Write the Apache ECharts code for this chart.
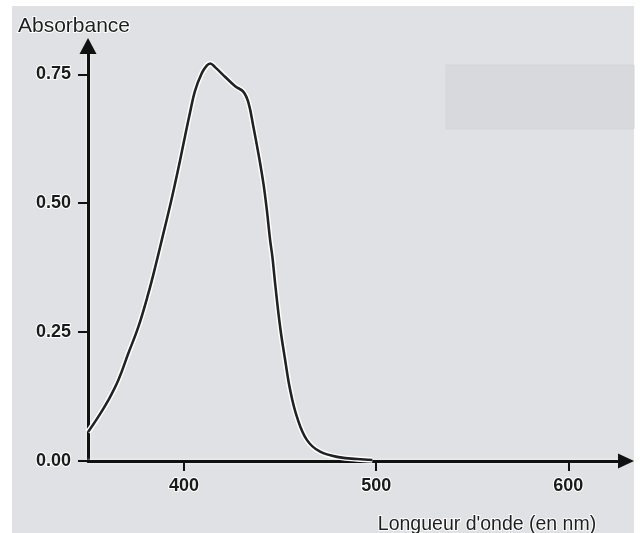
<!DOCTYPE html>
<html>
<head>
<meta charset="utf-8">
<script src="https://cdn.jsdelivr.net/npm/echarts@6/dist/echarts.min.js"></script>
<style>
html,body{margin:0;padding:0;background:#fff;}
#chart{width:641px;height:533px;}
</style>
</head>
<body>
<div id="chart"></div>
<script>
// Wavelength (nm) and absorbance
var wavelength = [350.0, 355.4, 360.6, 365.8, 371.0, 376.2, 381.4, 385.5, 389.2, 392.7, 395.3, 397.9, 400.5, 403.1, 405.7, 409.2, 411.8, 413.6, 416.1, 421.4, 426.6, 430.9, 433.5, 436.1, 438.7, 441.3, 443.1, 444.8, 446.0, 447.4, 450.0, 452.6, 455.2, 458.7, 463.9, 470.8, 481.3, 490.0, 498.0];
var absorbance = [0.056, 0.086, 0.118, 0.157, 0.209, 0.260, 0.325, 0.384, 0.441, 0.495, 0.538, 0.583, 0.630, 0.676, 0.718, 0.752, 0.767, 0.771, 0.764, 0.745, 0.727, 0.716, 0.695, 0.648, 0.596, 0.538, 0.486, 0.428, 0.395, 0.344, 0.260, 0.196, 0.138, 0.086, 0.041, 0.018, 0.007, 0.004, 0.002];
var xTicks = [400, 500, 600];
var yTicks = [0, 0.25, 0.5, 0.75];
var yTickLabels = ['0.00', '0.25', '0.50', '0.75'];
var xName = "Longueur d'onde (en nm)";
var yName = 'Absorbance';

var points = wavelength.map(function (w, i) { return [w, absorbance[i]]; });

var tickFont = "'Liberation Sans', Arial, sans-serif";
var nameFont = "'Liberation Sans', Arial, sans-serif";

var chart = echarts.init(document.getElementById('chart'), null, {renderer: 'canvas'});
chart.setOption({
  backgroundColor: '#ffffff',
  animation: false,
  graphic: [
    {type: 'rect', z: -10, shape: {x: 12, y: 6, width: 622, height: 527}, style: {fill: '#e0e1e4'}},
    {type: 'rect', z: -9, shape: {x: 446, y: 65, width: 188, height: 64}, style: {fill: '#d8d9dc', stroke: '#d4d5d8', lineWidth: 1}}
  ],
  grid: {left: 88, top: 46, width: 538, bottom: 72, containLabel: false, outerBoundsMode: 'none'},
  xAxis: {
    type: 'value', min: 350, max: 630,
    name: xName, nameLocation: 'middle', nameGap: 54,
    nameTextStyle: {fontFamily: nameFont, fontSize: 19.5, color: '#1e1e1e', textBorderColor: '#ffffff', textBorderWidth: 2, padding: [0, 0, 0, 260]},
    axisLine: {show: true, symbol: ['none', 'triangle'], symbolSize: [15, 16],
      lineStyle: {color: '#111', width: 3, shadowColor: '#ffffff', shadowBlur: 3}},
    axisTick: {show: true, length: 10, customValues: xTicks, lineStyle: {color: '#111', width: 2}},
    axisLabel: {customValues: xTicks, margin: 16, fontFamily: tickFont, fontWeight: 'bold', fontSize: 18, color: '#1a1a1a', textBorderColor: '#ffffff', textBorderWidth: 2},
    splitLine: {show: false}
  },
  yAxis: {
    type: 'value', min: 0, max: 0.805,
    name: yName, nameLocation: 'end', nameGap: 9,
    nameTextStyle: {fontFamily: nameFont, fontSize: 21, color: '#1e1e1e', textBorderColor: '#ffffff', textBorderWidth: 2, align: 'center', padding: [0, 28, 0, 0]},
    axisLine: {show: true, symbol: ['none', 'triangle'], symbolSize: [17, 16],
      lineStyle: {color: '#111', width: 3, shadowColor: '#ffffff', shadowBlur: 3}},
    axisTick: {show: true, length: 10, customValues: yTicks, lineStyle: {color: '#111', width: 2}},
    axisLabel: {customValues: yTicks, margin: 17, fontFamily: tickFont, fontWeight: 'bold', fontSize: 18, color: '#1a1a1a', textBorderColor: '#ffffff', textBorderWidth: 2,
      formatter: function (v) { var i = yTicks.indexOf(v); return i >= 0 ? yTickLabels[i] : ''; }},
    splitLine: {show: false}
  },
  series: [
    {type: 'line', data: points, smooth: 0.4, showSymbol: false, silent: true, z: 2,
      lineStyle: {color: '#ffffff', width: 5.5}},
    {type: 'line', data: points, smooth: 0.4, showSymbol: false, silent: true, z: 3,
      lineStyle: {color: '#222222', width: 2.6}}
  ]
});
</script>
</body>
</html>
